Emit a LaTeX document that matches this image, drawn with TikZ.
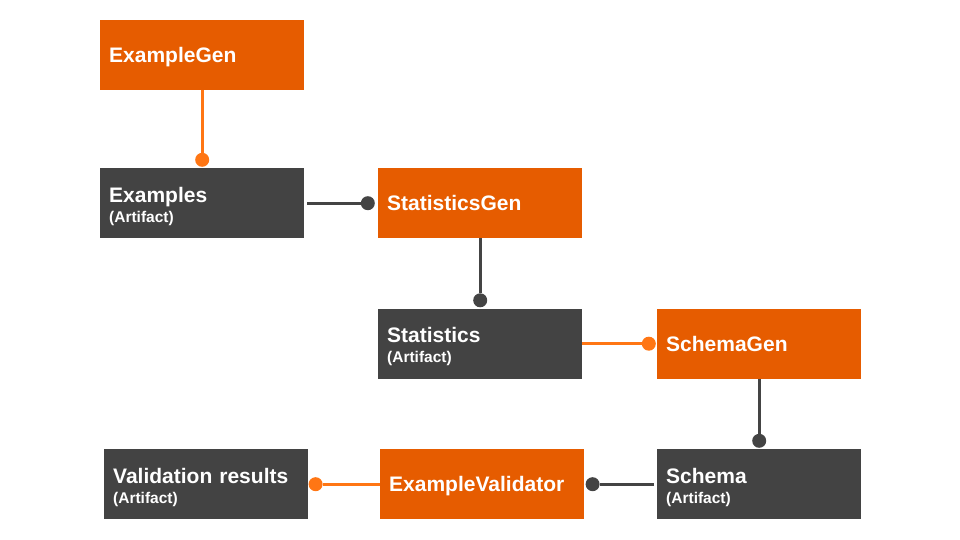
\documentclass[tikz,border=0pt]{standalone}
\usepackage{fontspec}
\setmainfont{Liberation Sans}
\usetikzlibrary{positioning}
\definecolor{compfill}{RGB}{230,92,0}
\definecolor{artfill}{RGB}{67,67,67}
\definecolor{linkorange}{RGB}{255,118,20}
\definecolor{linkgray}{RGB}{68,68,68}
\newcommand{\artline}{\\{\fontsize{15.5}{20}\selectfont (Artifact)}}

\begin{document}
\begin{tikzpicture}[x=1pt,y=-1pt,
  box/.style={anchor=north west, minimum width=204pt, minimum height=70pt,
    inner xsep=9pt, text width=186pt, align=left, text=white,
    font=\bfseries\fontsize{21}{20}\selectfont},
  comp/.style={box, fill=compfill, text height=15.5pt, text depth=0pt},
  artifact/.style={box, fill=artfill},
  dot/.style={circle, inner sep=0pt, minimum size=14pt},
  olink/.style={linkorange, line width=3pt},
  glink/.style={linkgray, line width=3pt}]
\useasboundingbox (0,0) rectangle (960,540);

% Components
\node[comp] (exgen) at (100,20) {ExampleGen};
\node[comp] (statgen) at (378,168) {StatisticsGen};
\node[comp] (schemagen) at (657,308.5) {SchemaGen};
\node[comp] (validator) at (380,449) {ExampleValidator};

% Artifacts
\node[artifact] (examples) at (100,168) {\rule{0pt}{21.5pt}Examples\artline};
\node[artifact] (stats) at (378,308.5) {\rule{0pt}{21.5pt}Statistics\artline};
\node[artifact] (schema) at (657,449) {\rule{0pt}{21.5pt}Schema\artline};
\node[artifact] (results) at (104,449) {\rule{0pt}{21.5pt}Validation results\artline};

% End dots
\node[dot, fill=linkorange, above=1pt of examples] (d1) {};
\node[dot, fill=linkgray, left=3pt of statgen] (d2) {};
\node[dot, fill=linkgray, above=1pt of stats] (d3) {};
\node[dot, fill=linkorange, left=1pt of schemagen] (d4) {};
\node[dot, fill=linkgray, above=1pt of schema] (d5) {};
\node[dot, fill=linkgray, right=1pt of validator] (d6) {};
\node[dot, fill=linkorange, right=0pt of results] (d7) {};

% Connectors
\draw[olink] (exgen) -- (d1);
\draw[glink, shorten <=3pt] (examples) -- (d2);
\draw[glink] (statgen) -- (d3);
\draw[olink] (stats) -- (d4);
\draw[glink] (schemagen) -- (d5);
\draw[glink, shorten <=3pt] (schema) -- (d6);
\draw[olink] (validator) -- (d7);
\end{tikzpicture}
\end{document}
